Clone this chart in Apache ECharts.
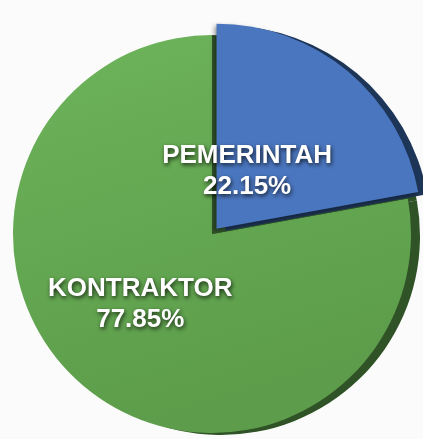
<!DOCTYPE html>
<html>
<head>
<meta charset="utf-8">
<script src="https://cdn.jsdelivr.net/npm/echarts@6/dist/echarts.min.js"></script>
<style>
html,body{margin:0;padding:0;background:#fbfbfb;}
#c{width:423px;height:439px;}
</style>
</head>
<body>
<div id="c"></div>
<script>
const categories = ['PEMERINTAH', 'KONTRAKTOR'];
const shares = [22.15, 77.85];
const faceColors = ['#4a76bf', '#64a852'];
const sideColors = ['#1d3557', '#2f5226'];
const gapColor = '#30532a';

const chart = echarts.init(document.getElementById('c'), null, {renderer: 'canvas'});

const greenGrad = {
  type: 'linear', x: 0, y: 0, x2: 0.3, y2: 1,
  colorStops: [{offset: 0, color: '#6db45b'}, {offset: 1, color: '#5c9c4a'}]
};
const none = {color: 'rgba(0,0,0,0)', borderWidth: 0};

// one series per layer so the raised blue slice can have its own radius
function sliceData(activeIdx, color, showLabel, selected, extra) {
  return categories.map((name, i) => ({
    name: name,
    value: shares[i],
    selected: selected && i === 0,
    itemStyle: (activeIdx === -1 || i === activeIdx) ? Object.assign({color: color, borderWidth: 0}, extra || {}) : none,
    label: {show: showLabel && i === activeIdx}
  }));
}

const labelStyle = {
  position: 'inside',
  formatter: p => p.name + '\n' + p.value.toFixed(2) + '%',
  color: '#ffffff',
  fontFamily: 'Liberation Sans, Arial, sans-serif',
  fontWeight: 'bold',
  fontSize: 26,
  lineHeight: 31,
  align: 'center',
  textShadowColor: 'rgba(0,0,0,0.75)',
  textShadowBlur: 4,
  textShadowOffsetX: 1,
  textShadowOffsetY: 2
};

const base = {
  type: 'pie',
  silent: true,
  startAngle: 90,
  clockwise: true,
  selectedMode: 'single',
  selectedOffset: 7,
  emphasis: {disabled: true},
  labelLine: {show: false}
};

chart.setOption({
  animation: false,
  backgroundColor: '#fbfbfb',
  series: [
    // green side (whole disc, hidden under faces)
    Object.assign({}, base, {
      center: [221, 236], radius: [0, 199],
      label: {show: false},
      data: sliceData(-1, sideColors[1], false, false)
    }),
    // green face
    Object.assign({}, base, {
      center: [212, 234], radius: [0, 199],
      label: labelStyle,
      labelLayout: {dx: -6, dy: -8},
      data: sliceData(1, greenGrad, true, true)
    }),
    // dark recess under the raised blue slice
    Object.assign({}, base, {
      center: [212, 234], radius: [0, 199],
      label: {show: false},
      data: sliceData(0, gapColor, false, false)
    }),
    // blue side
    Object.assign({}, base, {
      center: [221, 236], radius: [0, 205],
      label: {show: false},
      data: sliceData(0, sideColors[0], false, true)
    }),
    // blue face
    Object.assign({}, base, {
      center: [212, 234], radius: [0, 205],
      label: labelStyle,
      labelLayout: {dx: -37, dy: 24},
      data: sliceData(0, faceColors[0], true, true, {
        shadowColor: 'rgba(0,0,0,0.4)', shadowBlur: 4, shadowOffsetX: -2, shadowOffsetY: 2
      })
    })
  ]
});
</script>
</body>
</html>
